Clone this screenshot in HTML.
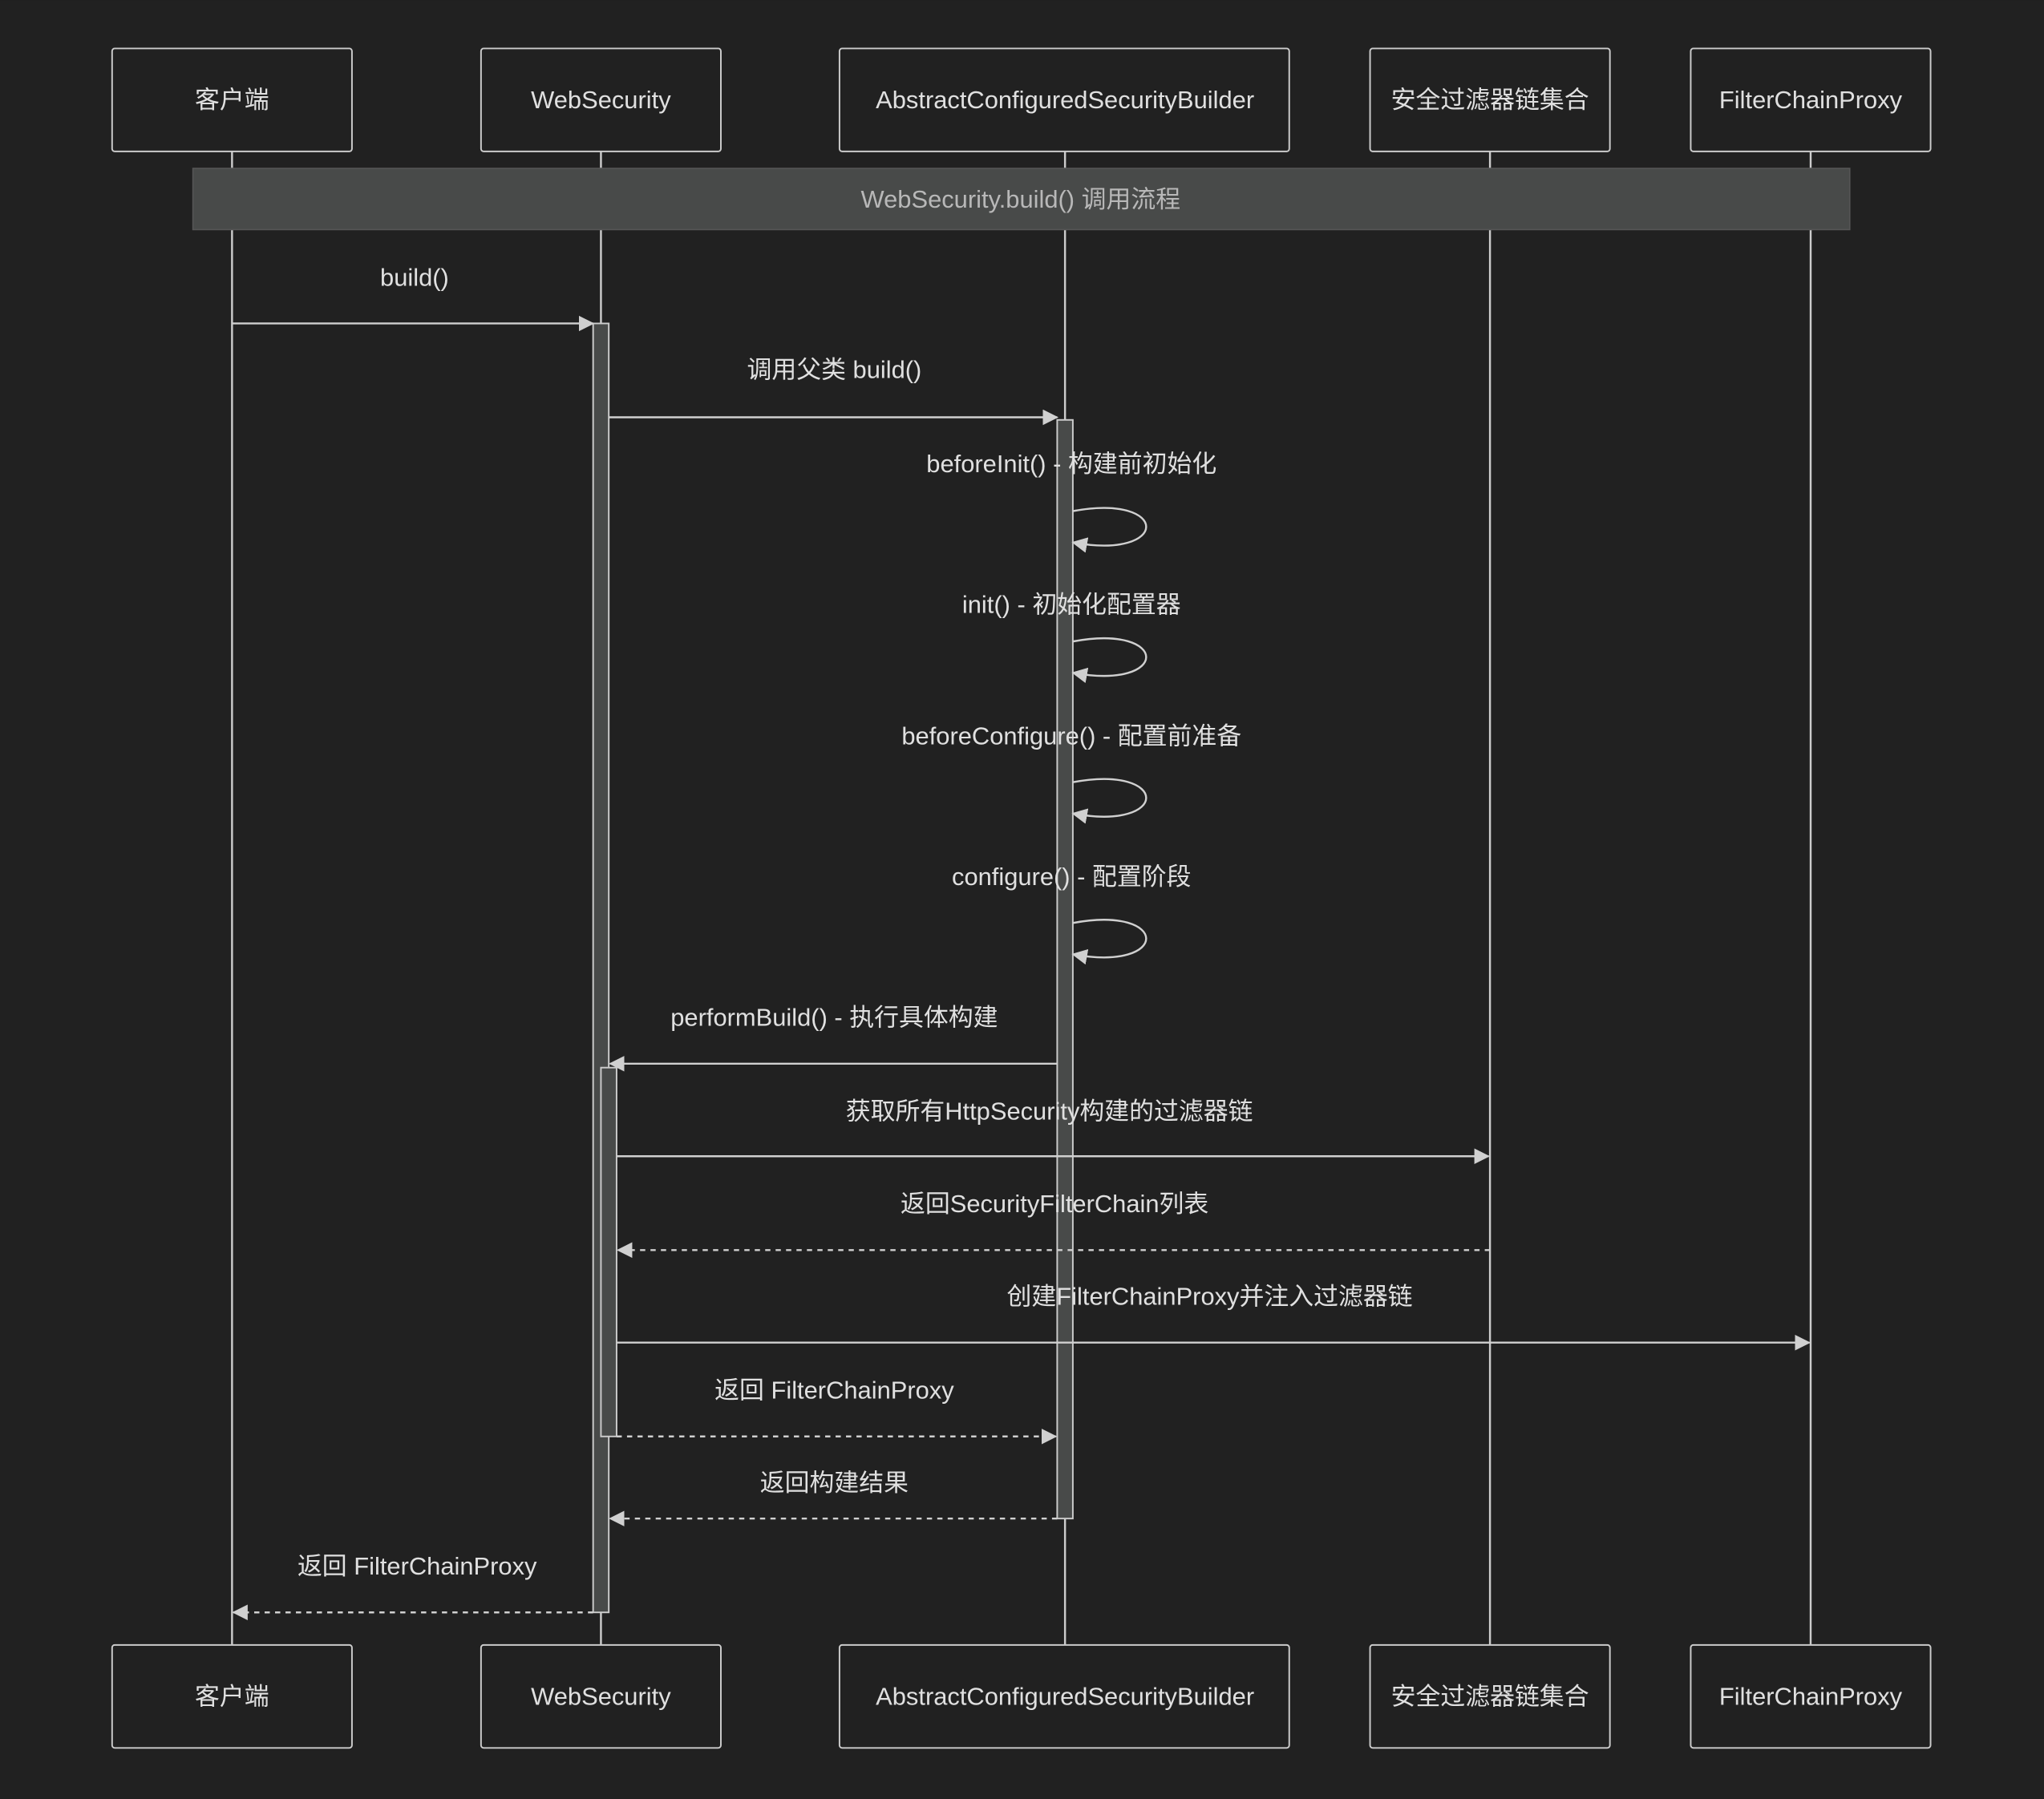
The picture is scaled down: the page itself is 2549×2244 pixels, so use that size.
<!DOCTYPE html>
<html><head><meta charset="utf-8"><style>
html,body{margin:0;padding:0;background:#212121;}
svg{display:block;}
text{font-family:"Liberation Sans","Noto Sans CJK SC",sans-serif;font-size:19px;fill:#e0e0e0;text-anchor:middle;}
</style></head><body>
<svg width="2549" height="2244" viewBox="0 0 1568 1380" xmlns="http://www.w3.org/2000/svg">
<defs>
<marker id="a" viewBox="0 0 12 12" refX="11" refY="6" markerWidth="12" markerHeight="12" markerUnits="userSpaceOnUse" orient="auto"><path d="M0,0 L12,6 L0,12 z" fill="#d0d0d0"/></marker>
</defs>
<rect width="1568" height="1380" fill="#212121"/>
<g stroke="#cccccc" stroke-width="1.5">
<line x1="178" y1="116" x2="178" y2="1262"/>
<line x1="461" y1="116" x2="461" y2="1262"/>
<line x1="817" y1="116" x2="817" y2="1262"/>
<line x1="1143" y1="116" x2="1143" y2="1262"/>
<line x1="1389" y1="116" x2="1389" y2="1262"/>
</g>
<g fill="#212121" stroke="#cccccc" stroke-width="1.2">
<rect x="86" y="37" width="184" height="79" rx="2"/>
<rect x="369" y="37" width="184" height="79" rx="2"/>
<rect x="644" y="37" width="345" height="79" rx="2"/>
<rect x="1051" y="37" width="184" height="79" rx="2"/>
<rect x="1297" y="37" width="184" height="79" rx="2"/>
<rect x="86" y="1262" width="184" height="79" rx="2"/>
<rect x="369" y="1262" width="184" height="79" rx="2"/>
<rect x="644" y="1262" width="345" height="79" rx="2"/>
<rect x="1051" y="1262" width="184" height="79" rx="2"/>
<rect x="1297" y="1262" width="184" height="79" rx="2"/>
</g>
<g>
<text x="178" y="83">客户端</text><text x="461" y="83">WebSecurity</text><text x="817" y="83">AbstractConfiguredSecurityBuilder</text><text x="1143" y="83">安全过滤器链集合</text><text x="1389" y="83">FilterChainProxy</text>
<text x="178" y="1308">客户端</text><text x="461" y="1308">WebSecurity</text><text x="817" y="1308">AbstractConfiguredSecurityBuilder</text><text x="1143" y="1308">安全过滤器链集合</text><text x="1389" y="1308">FilterChainProxy</text>
</g>
<rect x="148" y="129" width="1271" height="47" fill="#484a49" stroke="#555" stroke-width="1"/>
<text x="783" y="159" style="fill:#b8b8b8">WebSecurity.build() 调用流程</text>

<g fill="#484a49" stroke="#cccccc" stroke-width="1.2">
<rect x="455" y="248" width="12" height="989"/>
<rect x="811" y="322" width="12" height="843"/>
<rect x="461" y="819" width="12" height="283"/>
</g>

<text x="318" y="219">build()</text>
<text x="640" y="290">调用父类 build()</text>
<text x="822" y="362">beforeInit() - 构建前初始化</text>
<text x="822" y="470">init() - 初始化配置器</text>
<text x="822" y="571">beforeConfigure() - 配置前准备</text>
<text x="822" y="679">configure() - 配置阶段</text>
<text x="640" y="787">performBuild() - 执行具体构建</text>
<text x="805" y="859">获取所有HttpSecurity构建的过滤器链</text>
<text x="809" y="930">返回SecurityFilterChain列表</text>
<text x="928" y="1001">创建FilterChainProxy并注入过滤器链</text>
<text x="640" y="1073">返回 FilterChainProxy</text>
<text x="640" y="1144">返回构建结果</text>
<text x="320" y="1208">返回 FilterChainProxy</text>

<g stroke="#d0d0d0" stroke-width="1.5" fill="none">
<line x1="178" y1="248" x2="455" y2="248" marker-end="url(#a)"/>
<line x1="467" y1="320" x2="811" y2="320" marker-end="url(#a)"/>
<path d="M823,392 C898,378 898,430 823,416" marker-end="url(#a)"/>
<path d="M823,492 C898,478 898,530 823,516" marker-end="url(#a)"/>
<path d="M823,600 C898,586 898,638 823,624" marker-end="url(#a)"/>
<path d="M823,708 C898,694 898,746 823,732" marker-end="url(#a)"/>
<line x1="811" y1="816" x2="468" y2="816" marker-end="url(#a)"/>
<line x1="473" y1="887" x2="1142" y2="887" marker-end="url(#a)"/>
<line x1="1143" y1="959" x2="474" y2="959" stroke-dasharray="4,4" marker-end="url(#a)"/>
<line x1="473" y1="1030" x2="1388" y2="1030" marker-end="url(#a)"/>
<line x1="473" y1="1102" x2="810" y2="1102" stroke-dasharray="4,4" marker-end="url(#a)"/>
<line x1="811" y1="1165" x2="468" y2="1165" stroke-dasharray="4,4" marker-end="url(#a)"/>
<line x1="455" y1="1237" x2="179" y2="1237" stroke-dasharray="4,4" marker-end="url(#a)"/>
</g>
</svg>
</body></html>
